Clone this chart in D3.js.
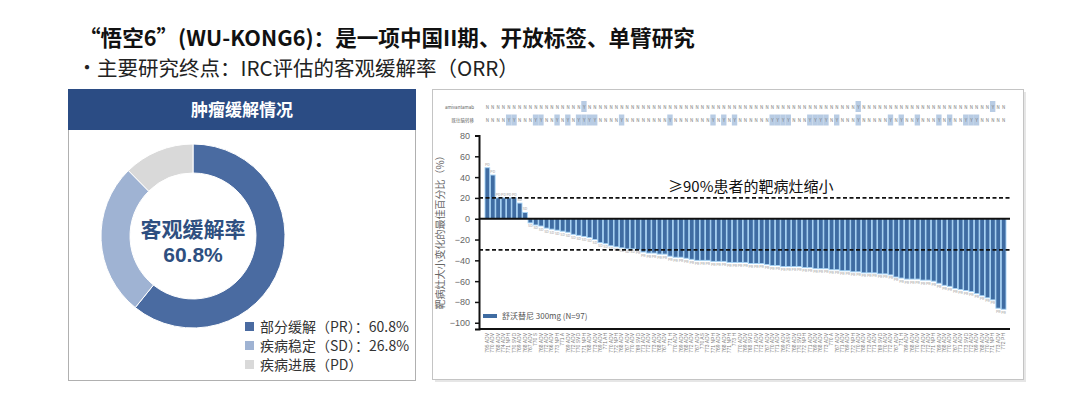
<!DOCTYPE html>
<html><head><meta charset="utf-8">
<script src="https://cdn.jsdelivr.net/npm/d3@7"></script>
<style>
html,body{margin:0;padding:0;background:#fff;}
svg{display:block;font-family:"Noto Sans CJK SC","Noto Sans",sans-serif;}
</style></head>
<body><svg id="c" width="1080" height="414"></svg>
<script>
// ---------- data ----------
const titleText = "“悟空6”(WU-KONG6)：是一项中国II期、开放标签、单臂研究";
const subtitleText = "主要研究终点：IRC评估的客观缓解率（ORR）";
const panelTitle = "肿瘤缓解情况";
const donutCategories = ["部分缓解（PR）：60.8%", "疾病稳定（SD）：26.8%", "疾病进展（PD）"];
const donutValues = [60.8, 26.8, 12.4];
const donutColors = ["#4a6ba1", "#9fb3d3", "#d9d9d9"];
const centerLabel = ["客观缓解率", "60.8%"];

const changeValues = [49, 42, 20, 20, 20, 20, 15, 6,
  -4, -6, -7, -9, -10, -11, -12, -13, -15, -16, -17, -18, -20, -23, -24, -26, -27, -28,
  -29, -29, -30, -32, -33, -33, -34, -34, -36, -37, -37, -38, -39, -40, -40, -40,
  -41, -41, -41, -42, -42, -42, -42, -43, -43, -43, -44,
  -45, -45, -46, -46, -46, -46, -47, -47, -48, -48, -48, -49, -49, -50,
  -50, -51, -51, -52, -52, -52, -53, -53, -54, -56, -57, -58, -58, -58, -59, -59,
  -60, -62, -64, -65, -67, -68, -69, -70, -72, -74, -76, -78, -86, -87];
const patientIds = ["795 ADV","770 ADV","768 ADV","774 ADV","771 NPH","770 SVD","769 ADV","768 ADV","767 ADV","770 S",
  "768 ADV","772 ADV","766 ADV","773 NPH","771 A","769 ADV","772 ADV","770 SVD","771 NPH","768 ADV",
  "773 ADV","769 ADV","771 AH","770 ADV","772 NPH","768 ADV","767 ADV","770 ADV","769 SVD","771 ADV",
  "772 ADV","773 ADV","768 ADV","767 ADV","771 H","770 ADV","769 ADV","768 ADV","772 ADV","767 ADV",
  "770 AS","773 ADV","771 NPH","769 ADV","768 ADV","771 NPH","773 H","770 ADV","769 ADV","768 SVD",
  "771 ADV","772 ADV","767 ADV","770 ADV","771 ADV","769 ADV","773 ASV","768 ADV","770 SVD","772 NPH",
  "771 ADV","769 ADV","768 ADV","773 ADV","770 A","767 ADV","771 ADV","769 ADV","772 NPH","770 ADV",
  "768 ADV","773 ADV","771 ADV","769 SVD","770 ADV","772 ADV","767 ADV","771 H","769 ADV","768 ADV",
  "770 ADV","773 ADV","772 ADV","771 NPH","769 ADV","768 ADV","770 ADV","767 ADV","771 ADV","773 SVD",
  "772 ADV","769 ADV","768 ADV","770 ADV","771 NPH","773 ADV","772 PH"];
const rowLabels = ["amivantamab", "既往脑转移"];
const row1Yes = [18, 69, 94];
const row2Yes = [4, 5, 9, 10, 13, 15, 17, 18, 19, 20, 25, 34, 42, 44, 46, 53, 54, 55, 56, 60, 61, 62, 63, 65, 69, 75, 77, 80, 84, 86, 89, 90, 91];
const yTicks = [80, 60, 40, 20, 0, -20, -40, -60, -80, -100];
const refLines = [20, -30];
const yAxisTitle = "靶病灶大小变化的最佳百分比（%）";
const annotation = "≥90%患者的靶病灶缩小";
const seriesName = "舒沃替尼 300mg (N=97)";

// ---------- drawing ----------
const svg = d3.select("#c");

svg.append("text").attr("x", 79).attr("y", 46).attr("font-size", 21.6).attr("font-weight", 700)
  .attr("fill", "#111").text(titleText);
svg.append("text").attr("x", 77).attr("y", 75).attr("font-size", 20).attr("fill", "#222").text("•");
svg.append("text").attr("x", 97).attr("y", 76).attr("font-size", 20.5).attr("fill", "#222").text(subtitleText);

// left panel
svg.append("rect").attr("x", 68.5).attr("y", 89.5).attr("width", 347).attr("height", 291)
  .attr("fill", "#fff").attr("stroke", "#b0b0b0");
svg.append("rect").attr("x", 68).attr("y", 89).attr("width", 348).attr("height", 41).attr("fill", "#2b4c84");
svg.append("text").attr("x", 242).attr("y", 116).attr("text-anchor", "middle").attr("font-size", 17)
  .attr("font-weight", 700).attr("fill", "#fff").text(panelTitle);

const cx = 193, cy = 236;
const pie = d3.pie().sort(null).value(d => d);
const arc = d3.arc().innerRadius(63).outerRadius(92);
svg.append("g").attr("transform", `translate(${cx},${cy})`)
  .selectAll("path").data(pie(donutValues)).join("path")
  .attr("d", arc).attr("fill", (d, i) => donutColors[i]).attr("stroke", "#fff").attr("stroke-width", 1);
svg.append("text").attr("x", 193).attr("y", 237).attr("text-anchor", "middle").attr("font-size", 21)
  .attr("font-weight", 700).attr("fill", "#2e4f80").text(centerLabel[0]);
svg.append("text").attr("x", 193).attr("y", 262).attr("text-anchor", "middle").attr("font-size", 21)
  .attr("font-weight", 700).attr("fill", "#2e4f80")
  .attr("font-family", "Liberation Sans, Arial, sans-serif").text(centerLabel[1]);

const lg = svg.append("g").selectAll("g").data(donutCategories).join("g")
  .attr("transform", (d, i) => `translate(245,${327 + i * 19})`);
lg.append("rect").attr("x", 0).attr("y", -5).attr("width", 9).attr("height", 9).attr("fill", (d, i) => donutColors[i]);
lg.append("text").attr("x", 15).attr("y", 5).attr("font-size", 14).attr("fill", "#333").text(d => d);

// right panel
svg.append("rect").attr("x", 435).attr("y", 92).attr("width", 591).attr("height", 290).attr("fill", "#e6e6e6");
svg.append("rect").attr("x", 432.5).attr("y", 89.5).attr("width", 591).attr("height", 290)
  .attr("fill", "#fff").attr("stroke", "#c4c4c4");

const x = d3.scaleBand().domain(d3.range(changeValues.length)).range([485, 1006]).paddingInner(0.12);
const y = d3.scaleLinear().domain([-106, 80]).range([329, 135.5]);

// top rows
const rows = [row1Yes, row2Yes];
rows.forEach((yesList, r) => {
  const ry = 107 + r * 13.5;
  svg.append("text").attr("x", 474).attr("y", ry + 1.5).attr("text-anchor", "end").attr("font-size", 4.5)
    .attr("fill", "#666").text(rowLabels[r]);
  const g = svg.append("g");
  g.selectAll("rect").data(yesList).join("rect")
    .attr("x", d => x(d) - x.step() * 0.1).attr("y", ry - 6).attr("width", x.step()).attr("height", 11)
    .attr("fill", "#b8cce4");
  g.selectAll("text").data(changeValues.map((v, i) => i)).join("text")
    .attr("x", d => x(d) + x.bandwidth() / 2).attr("y", ry + 1.5).attr("text-anchor", "middle")
    .attr("font-size", 4.5).attr("fill", "#777").text(d => yesList.includes(d) ? "Y" : "N");
});

// bars
svg.append("g").selectAll("rect").data(changeValues).join("rect")
  .attr("x", (d, i) => x(i)).attr("width", x.bandwidth())
  .attr("y", d => y(Math.max(0, d))).attr("height", d => Math.abs(y(d) - y(0)))
  .attr("fill", "#3f6ca2").attr("stroke", "#a6d3f5").attr("stroke-width", 0.9);

// response labels
svg.append("g").selectAll("text").data(changeValues).join("text")
  .attr("x", (d, i) => x(i) + x.bandwidth() / 2)
  .attr("y", d => d >= 0 ? y(d) - 2 : y(d) + 4.5)
  .attr("text-anchor", "middle").attr("font-size", 3.6).attr("fill", "#999")
  .text(d => d >= 20 ? "PD" : (d <= -30 ? "PR" : "SD"));

// reference lines
svg.append("g").selectAll("line").data(refLines).join("line")
  .attr("x1", 479).attr("x2", 1010).attr("y1", d => y(d)).attr("y2", d => y(d))
  .attr("stroke", "#111").attr("stroke-width", 1.8).attr("stroke-dasharray", "4,2.5");
svg.append("line").attr("x1", 479).attr("x2", 1010).attr("y1", y(0)).attr("y2", y(0))
  .attr("stroke", "#111").attr("stroke-width", 2);
svg.append("line").attr("x1", 479).attr("x2", 1010).attr("y1", y(-106)).attr("y2", y(-106))
  .attr("stroke", "#111").attr("stroke-width", 2);

// y axis
const ya = svg.append("g").attr("transform", "translate(479,0)")
  .call(d3.axisLeft(y).tickValues(yTicks).tickSize(4).tickPadding(5));
ya.select(".domain").attr("stroke", "#111").attr("stroke-width", 2);
ya.selectAll(".tick line").attr("stroke", "#111").attr("stroke-width", 1.5);
ya.selectAll(".tick text").attr("font-size", 9).attr("fill", "#666")
  .attr("font-family", "Liberation Sans, Arial, sans-serif");

svg.append("text").attr("transform", "translate(444,230) rotate(-90)").attr("text-anchor", "middle")
  .attr("font-size", 10).attr("fill", "#666").text(yAxisTitle);

// x labels
svg.append("g").selectAll("text").data(changeValues.map((v, i) => i)).join("text")
  .attr("transform", d => `translate(${x(d) + x.bandwidth() / 2 + 1.6},333) rotate(-90)`)
  .attr("text-anchor", "end").attr("font-size", 5).attr("fill", "#7a7a7a")
  .attr("font-family", "Liberation Sans, Arial, sans-serif")
  .text(d => patientIds[d] || "");

// annotation
svg.append("text").attr("x", 668).attr("y", 192).attr("font-size", 15).attr("fill", "#111").text(annotation);

// legend
svg.append("rect").attr("x", 483).attr("y", 314).attr("width", 14).attr("height", 4).attr("fill", "#3f6ca2");
svg.append("text").attr("x", 502).attr("y", 318.5).attr("font-size", 8).attr("fill", "#555").text(seriesName);
</script></body></html>
